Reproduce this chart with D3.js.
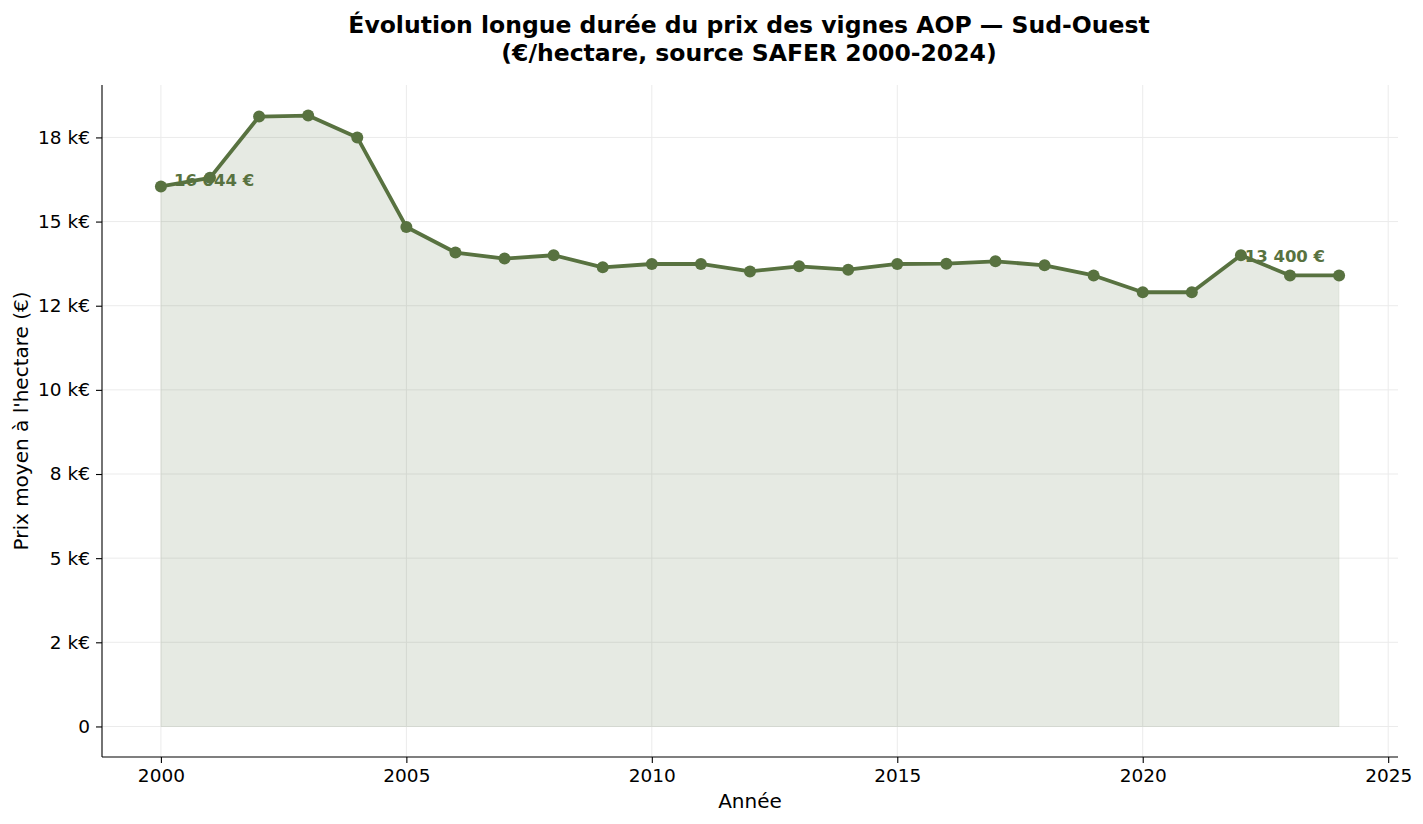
<!DOCTYPE html>
<html>
<head>
<meta charset="utf-8">
<script src="https://cdn.jsdelivr.net/npm/d3@7"></script>
<style>
  body { margin: 0; background: #fff; }
  text { font-family: "DejaVu Sans", sans-serif; }
</style>
</head>
<body>
<svg id="chart" width="1423" height="824"></svg>
<script>
(function(){

  const years = [2000,2001,2002,2003,2004,2005,2006,2007,2008,2009,2010,2011,2012,
                 2013,2014,2015,2016,2017,2018,2019,2020,2021,2022,2023,2024]
  const prices = [16044,16300,18120,18150,17500,14840,14080,13900,14000,13640,13740,13740,13520,
                  13670,13570,13740,13750,13820,13700,13400,12900,12900,14000,13400,13400]

  const yTicks = [0,2500,5000,7500,10000,12500,15000,17500]
  const yTickLabels = ['0','2 k€','5 k€','8 k€','10 k€','12 k€','15 k€','18 k€']
  const xTicks = [2000,2005,2010,2015,2020,2025]

  const green = '#587240'
  const margin = {left: 102, right: 1423 - 1398, top: 85, bottom: 824 - 757}
  const W = 1423, H = 824

  const svg = d3.select('#chart')

  const x = d3.scaleLinear().domain([1998.8, 2025.2])
              .range([margin.left, W - margin.right])
  const y = d3.scaleLinear().domain([-907.5, 19057.5])
              .range([H - margin.bottom, margin.top])

  // grid
  const grid = svg.append('g')
  grid.selectAll('line.gx').data(xTicks).enter().append('line')
      .attr('x1', d => x(d)).attr('x2', d => x(d))
      .attr('y1', y.range()[0]).attr('y2', y.range()[1])
      .attr('stroke', '#ebebeb').attr('stroke-width', 1)
  grid.selectAll('line.gy').data(yTicks).enter().append('line')
      .attr('x1', x.range()[0]).attr('x2', x.range()[1])
      .attr('y1', d => y(d)).attr('y2', d => y(d))
      .attr('stroke', '#ebebeb').attr('stroke-width', 1)

  const pts = years.map((yr, i) => ({year: yr, price: prices[i]}))

  // fill under the curve
  const area = d3.area().x(d => x(d.year)).y0(y(0)).y1(d => y(d.price))
  svg.append('path').datum(pts)
      .attr('d', area)
      .attr('fill', green).attr('fill-opacity', 0.15)
      .attr('stroke', green).attr('stroke-opacity', 0.08)

  // line + markers
  const line = d3.line().x(d => x(d.year)).y(d => y(d.price))
  svg.append('path').datum(pts)
      .attr('d', line)
      .attr('fill', 'none').attr('stroke', green)
      .attr('stroke-width', 3.8).attr('stroke-linejoin', 'round')

  svg.append('g').selectAll('circle').data(pts).enter().append('circle')
      .attr('cx', d => x(d.year)).attr('cy', d => y(d.price))
      .attr('r', 6).attr('fill', green)

  // annotations
  const fmt = v => d3.format(',')(v).replace(/,/g, ' ') + ' €'
  const first = pts[0], last = pts[pts.length - 1]
  svg.append('text')
      .attr('x', x(first.year) + 13).attr('y', y(first.price))
      .attr('font-size', '16.5px').attr('font-weight', 'bold').attr('fill', green)
      .text(fmt(first.price))
  svg.append('text')
      .attr('x', x(last.year) - 14).attr('y', y(last.price) - 13)
      .attr('text-anchor', 'end')
      .attr('font-size', '16.5px').attr('font-weight', 'bold').attr('fill', green)
      .text(fmt(last.price))

  // axes
  const xAxis = d3.axisBottom(x).tickValues(xTicks).tickFormat(d3.format('d'))
                  .tickSize(6).tickPadding(6)
  const yAxis = d3.axisLeft(y).tickValues(yTicks)
                  .tickFormat((d, i) => yTickLabels[i]).tickSize(6).tickPadding(6)

  const gx = svg.append('g').attr('transform', `translate(0,${H - margin.bottom})`).call(xAxis)
  const gy = svg.append('g').attr('transform', `translate(${margin.left},0)`).call(yAxis)
  ;[gx, gy].forEach(g => {
    g.select('.domain').attr('stroke', '#000').attr('stroke-width', 1.1)
    g.selectAll('.tick line').attr('stroke', '#000').attr('stroke-width', 1.1)
    g.selectAll('.tick text').attr('font-size', '18.5px').attr('fill', '#000')
      .attr('font-family', 'DejaVu Sans')
  })
  // keep domain ends flush with the plot box
  gx.select('.domain').attr('d', `M${x.range()[0]},0H${x.range()[1]}`)
  gy.select('.domain').attr('d', `M0,${y.range()[0]}V${y.range()[1]}`)

  // labels
  svg.append('text').attr('x', (x.range()[0] + x.range()[1]) / 2).attr('y', 808)
      .attr('text-anchor', 'middle').attr('font-size', '20px').text('Année')
  svg.append('text')
      .attr('transform', `translate(28,${(y.range()[0] + y.range()[1]) / 2}) rotate(-90)`)
      .attr('text-anchor', 'middle').attr('font-size', '20px')
      .text("Prix moyen à l'hectare (€)")

  // title
  const title = svg.append('text').attr('text-anchor', 'middle')
      .attr('font-size', '23.5px').attr('font-weight', 'bold')
  title.append('tspan').attr('x', 749).attr('y', 33)
      .text('Évolution longue durée du prix des vignes AOP — Sud-Ouest')
  title.append('tspan').attr('x', 749).attr('y', 61)
      .text('(€/hectare, source SAFER 2000-2024)')

})()
</script>
</body>
</html>
